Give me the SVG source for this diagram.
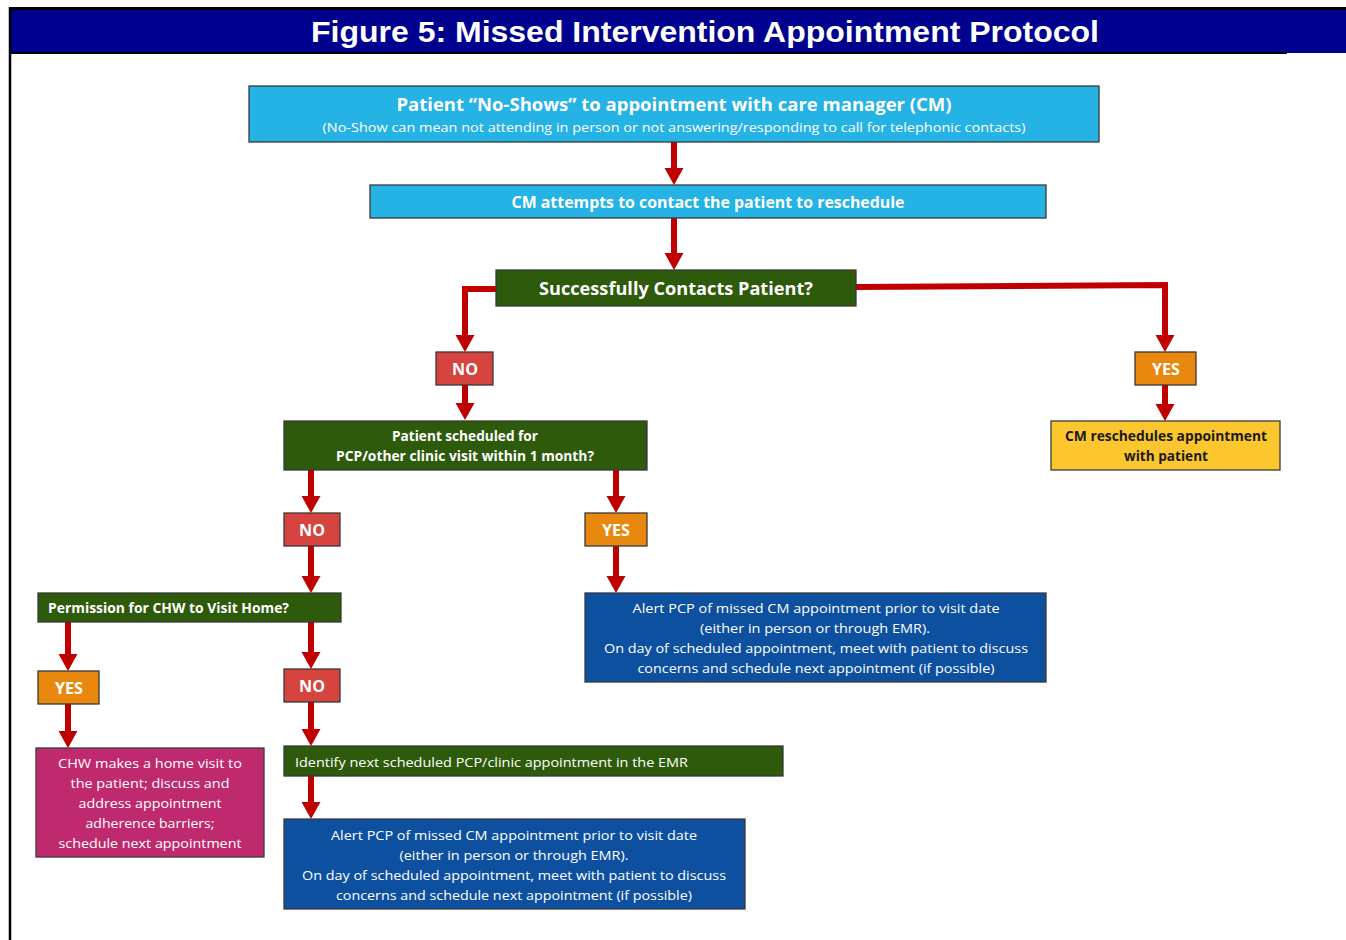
<svg xmlns="http://www.w3.org/2000/svg" width="1346" height="940" viewBox="0 0 1346 940">
<style>
.box{stroke:#3a3a3a;stroke-width:1.3}
.lb{fill:#25B2E5}
.gr{fill:#2E5A0B}
.no{fill:#D6443F}
.yes{fill:#E8880E}
.yl{fill:#FCC62E}
.bl{fill:#0D50A0}
.mg{fill:#BF2A6E}
text{font-family:"Open Sans","Noto Sans","Liberation Sans",sans-serif;fill:#fff}
.b{font-weight:bold}
.c{text-anchor:middle}
.r13{font-size:13px}
.conn{fill:none;stroke:#C00000;stroke-width:6;marker-end:url(#ah)}
</style>
<defs>
<marker id="ah" markerUnits="userSpaceOnUse" markerWidth="20" markerHeight="20" viewBox="0 0 20 20" refX="3" refY="10" orient="auto">
<path d="M0,0.5 L17,10 L0,19.5 z" fill="#C00000"/>
</marker>
</defs>
<rect width="1346" height="940" fill="#fff"/>
<g id="header">
<rect x="10" y="8" width="1336" height="45" fill="#00008E"/>
<line x1="10" y1="8.5" x2="1346" y2="8.5" stroke="#000" stroke-width="3"/>
<line x1="10" y1="53" x2="1287" y2="53" stroke="#000" stroke-width="2"/>
<line x1="10" y1="7" x2="10" y2="940" stroke="#000" stroke-width="2.5"/>
<text x="705" y="42" class="c b" style="font-family:'Liberation Sans',Arial,sans-serif;font-size:29px" textLength="788" lengthAdjust="spacingAndGlyphs">Figure 5: Missed Intervention Appointment Protocol</text>
</g>
<g id="connectors">
<path class="conn" d="M674,142 V171"/>
<path class="conn" d="M674,218 V256"/>
<path class="conn" d="M496,289 H465 V338"/>
<path class="conn" d="M856,287 L1165,285 V338"/>
<path class="conn" d="M465,385 V406"/>
<path class="conn" d="M1165,385 V407"/>
<path class="conn" d="M311,470 V499"/>
<path class="conn" d="M616,470 V499"/>
<path class="conn" d="M311,546 V579"/>
<path class="conn" d="M616,546 V579"/>
<path class="conn" d="M68,622 V657"/>
<path class="conn" d="M311,622 V655"/>
<path class="conn" d="M68,704 V734"/>
<path class="conn" d="M311,702 V732"/>
<path class="conn" d="M311,776 V805"/>
</g>
<g id="n1">
<rect class="box lb" x="249" y="86" width="850" height="56"/>
<text x="674" y="111" class="c b" font-size="18" textLength="555" lengthAdjust="spacingAndGlyphs">Patient “No-Shows” to appointment with care manager (CM)</text>
<text x="674" y="132" class="c" font-size="12.5" textLength="703" lengthAdjust="spacingAndGlyphs">(No-Show can mean not attending in person or not answering/responding to call for telephonic contacts)</text>
</g>
<g id="n2">
<rect class="box lb" x="370" y="185" width="676" height="33"/>
<text x="708" y="208" class="c b" font-size="16" textLength="393" lengthAdjust="spacingAndGlyphs">CM attempts to contact the patient to reschedule</text>
</g>
<g id="n3">
<rect class="box gr" x="496" y="270" width="360" height="36"/>
<text x="676" y="295" class="c b" font-size="18" textLength="274" lengthAdjust="spacingAndGlyphs">Successfully Contacts Patient?</text>
</g>
<g id="no1">
<rect class="box no" x="436" y="352" width="57" height="33"/>
<text x="465" y="375" class="c b" font-size="15.5" textLength="26" lengthAdjust="spacingAndGlyphs">NO</text>
</g>
<g id="yes1">
<rect class="box yes" x="1135" y="352" width="61" height="33"/>
<text x="1166" y="375" class="c b" font-size="15.5" textLength="28" lengthAdjust="spacingAndGlyphs">YES</text>
</g>
<g id="n4">
<rect class="box yl" x="1051" y="421" width="229" height="49"/>
<text x="1166" y="441" class="c b" font-size="13.5" style="fill:#1a1a1a" textLength="202" lengthAdjust="spacingAndGlyphs">CM reschedules appointment</text>
<text x="1166" y="461" class="c b" font-size="13.5" style="fill:#1a1a1a" textLength="84" lengthAdjust="spacingAndGlyphs">with patient</text>
</g>
<g id="n5">
<rect class="box gr" x="284" y="421" width="363" height="49"/>
<text x="465" y="441" class="c b" font-size="13.5" textLength="146" lengthAdjust="spacingAndGlyphs">Patient scheduled for</text>
<text x="465" y="461" class="c b" font-size="13.5" textLength="258" lengthAdjust="spacingAndGlyphs">PCP/other clinic visit within 1 month?</text>
</g>
<g id="no2">
<rect class="box no" x="284" y="513" width="56" height="33"/>
<text x="312" y="536" class="c b" font-size="15.5" textLength="26" lengthAdjust="spacingAndGlyphs">NO</text>
</g>
<g id="yes2">
<rect class="box yes" x="585" y="513" width="62" height="33"/>
<text x="616" y="536" class="c b" font-size="15.5" textLength="28" lengthAdjust="spacingAndGlyphs">YES</text>
</g>
<g id="n6">
<rect class="box gr" x="38" y="593" width="303" height="29"/>
<text x="48" y="613" class="b" font-size="13.5" textLength="241" lengthAdjust="spacingAndGlyphs">Permission for CHW to Visit Home?</text>
</g>
<g id="n7">
<rect class="box bl" x="585" y="593" width="461" height="89"/>
<text x="816" y="613" class="c r13" textLength="367" lengthAdjust="spacingAndGlyphs">Alert PCP of missed CM appointment prior to visit date</text>
<text x="815" y="633" class="c r13" textLength="230" lengthAdjust="spacingAndGlyphs">(either in person or through EMR).</text>
<text x="816" y="653" class="c r13" textLength="424" lengthAdjust="spacingAndGlyphs">On day of scheduled appointment, meet with patient to discuss</text>
<text x="816" y="673" class="c r13" textLength="357" lengthAdjust="spacingAndGlyphs">concerns and schedule next appointment (if possible)</text>
</g>
<g id="yes3">
<rect class="box yes" x="38" y="671" width="61" height="33"/>
<text x="69" y="694" class="c b" font-size="15.5" textLength="28" lengthAdjust="spacingAndGlyphs">YES</text>
</g>
<g id="no3">
<rect class="box no" x="284" y="669" width="56" height="33"/>
<text x="312" y="692" class="c b" font-size="15.5" textLength="26" lengthAdjust="spacingAndGlyphs">NO</text>
</g>
<g id="n8">
<rect class="box mg" x="36" y="748" width="228" height="109"/>
<text x="150" y="768" class="c r13" textLength="184" lengthAdjust="spacingAndGlyphs">CHW makes a home visit to</text>
<text x="150" y="788" class="c r13" textLength="159" lengthAdjust="spacingAndGlyphs">the patient; discuss and</text>
<text x="150" y="808" class="c r13" textLength="143" lengthAdjust="spacingAndGlyphs">address appointment</text>
<text x="150" y="828" class="c r13" textLength="129" lengthAdjust="spacingAndGlyphs">adherence barriers;</text>
<text x="150" y="848" class="c r13" textLength="183" lengthAdjust="spacingAndGlyphs">schedule next appointment</text>
</g>
<g id="n9">
<rect class="box gr" x="284" y="746" width="499" height="30"/>
<text x="295" y="767" class="r13" textLength="393" lengthAdjust="spacingAndGlyphs">Identify next scheduled PCP/clinic appointment in the EMR</text>
</g>
<g id="n10">
<rect class="box bl" x="284" y="819" width="461" height="90"/>
<text x="514" y="840" class="c r13" textLength="366" lengthAdjust="spacingAndGlyphs">Alert PCP of missed CM appointment prior to visit date</text>
<text x="514" y="860" class="c r13" textLength="229" lengthAdjust="spacingAndGlyphs">(either in person or through EMR).</text>
<text x="514" y="880" class="c r13" textLength="424" lengthAdjust="spacingAndGlyphs">On day of scheduled appointment, meet with patient to discuss</text>
<text x="514" y="900" class="c r13" textLength="356" lengthAdjust="spacingAndGlyphs">concerns and schedule next appointment (if possible)</text>
</g>
</svg>
